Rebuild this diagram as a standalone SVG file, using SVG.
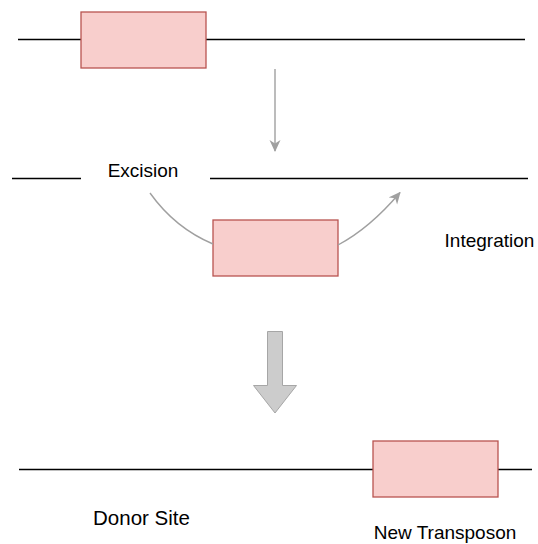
<svg xmlns="http://www.w3.org/2000/svg" width="538" height="544" viewBox="0 0 538 544">
  <style>
    .dna { stroke: #000; stroke-width: 1.3; fill: none; }
    .tn { fill: #f8cecc; stroke: #b85450; stroke-width: 1.3; }
    .lbl { font-family: "Liberation Sans", Arial, sans-serif; font-size: 19px; fill: #000; text-anchor: middle; dominant-baseline: central; }
    .flow { stroke: #a0a0a0; stroke-width: 1.4; fill: none; }
  </style>
  <defs>
    <marker id="head" viewBox="0 0 12 12" refX="11" refY="6" markerWidth="12" markerHeight="12" markerUnits="userSpaceOnUse" orient="auto">
      <path d="M0,0.5 L12,6 L0,11.5 L3.5,6 Z" fill="#a0a0a0"/>
    </marker>
  </defs>

  <!-- DNA strands -->
  <g id="strands">
    <line class="dna" x1="18" y1="39.5" x2="525" y2="39.5"/>
    <line class="dna" x1="12" y1="178.5" x2="81" y2="178.5"/>
    <line class="dna" x1="210" y1="178.5" x2="528" y2="178.5"/>
    <line class="dna" x1="19" y1="469.5" x2="532" y2="469.5"/>
  </g>

  <!-- transposon copies -->
  <g id="transposon-original">
    <rect class="tn" x="81" y="12" width="125" height="56"/>
  </g>
  <g id="transposon-excised">
    <rect class="tn" x="213" y="220" width="125" height="56"/>
  </g>
  <g id="transposon-new">
    <rect class="tn" x="373" y="441" width="125" height="56"/>
  </g>

  <!-- labels -->
  <g id="label-excision"><text class="lbl" x="143" y="170">Excision</text></g>
  <g id="label-integration"><text class="lbl" x="489.5" y="240">Integration</text></g>
  <g id="label-donor"><text class="lbl" x="141.5" y="517.5" style="font-size:20.5px">Donor Site</text></g>
  <g id="label-new"><text class="lbl" x="445" y="532.5">New Transposon</text></g>

  <!-- connectors -->
  <g id="connectors">
    <line class="flow" x1="275" y1="69" x2="275" y2="151" marker-end="url(#head)"/>
    <path class="flow" d="M150,193 Q175,228 213,244"/>
    <path class="flow" d="M338,245 Q370,228 400,192.5" marker-end="url(#head)"/>
    <path d="M267.5,331.5 L282.5,331.5 L282.5,385.5 L296.5,385.5 L275,413 L253.5,385.5 L267.5,385.5 Z" fill="#cccccc" stroke="#a6a6a6" stroke-width="1"/>
  </g>
</svg>
